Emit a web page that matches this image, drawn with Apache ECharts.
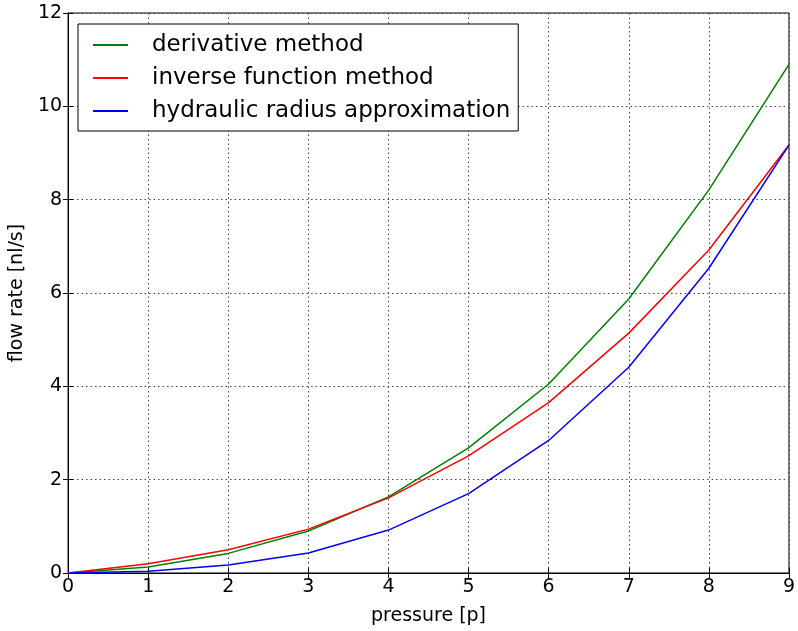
<!DOCTYPE html>
<html><head><meta charset="utf-8">
<script src="https://cdn.jsdelivr.net/npm/echarts@6/dist/echarts.min.js"></script>
<style>html,body{margin:0;padding:0;background:#fff}#c{width:798px;height:631px}</style>
</head><body><div id="c"></div>
<script>
const pressure = [0, 1, 2, 3, 4, 5, 6, 7, 8, 9];
const derivative = [0, 0.13, 0.42, 0.90, 1.63, 2.68, 4.05, 5.87, 8.21, 10.9];
const inverseFn = [0, 0.20, 0.50, 0.94, 1.61, 2.51, 3.65, 5.14, 6.92, 9.17];
const hydraulic = [0, 0.04, 0.17, 0.43, 0.92, 1.70, 2.84, 4.41, 6.53, 9.17];
const seriesNames = ['derivative method', 'inverse function method', 'hydraulic radius approximation'];
const colors = ['#008000', '#ff0000', '#0000ff'];
const font = 'DejaVu Sans';
function pairs(arr){ return pressure.map((p,i)=>[p, arr[i]]); }
const grid = {left: 67, right: 6, top: 13, bottom: 52, show: true, borderColor: '#000', borderWidth: 1, backgroundColor: 'transparent'};
const gridLine = {show: true, lineStyle: {color: '#444', type: [1.5, 3], width: 1}};
const chart = echarts.init(document.getElementById('c'), null, {renderer: 'canvas'});
chart.setOption({
  animation: false,
  color: colors,
  grid: grid,
  legend: {
    left: 78, top: 24, orient: 'vertical',
    padding: [9, 8, 8, 15],
    itemGap: 9, itemWidth: 35, itemHeight: 2, icon: 'rect',
    borderColor: '#000', borderWidth: 1, backgroundColor: '#fff',
    textStyle: {fontFamily: font, fontSize: 23, color: '#000', lineHeight: 24, padding: [0, 0, 0, 19]},
    data: seriesNames
  },
  xAxis: [{
    type: 'value', min: 0, max: 9, interval: 1, position: 'bottom',
    name: 'pressure [p]', nameLocation: 'middle', nameGap: 34,
    nameTextStyle: {fontFamily: font, fontSize: 19, color: '#000'},
    axisLine: {show: true, lineStyle: {color: '#000', width: 1}},
    axisTick: {show: true, inside: true, length: 5, lineStyle: {color: '#000'}},
    axisLabel: {fontFamily: font, fontSize: 19, color: '#000', margin: 5},
    splitLine: gridLine
  }, {
    type: 'value', min: 0, max: 9, interval: 1, position: 'top',
    axisLine: {show: true, lineStyle: {color: '#000'}},
    axisTick: {show: true, inside: true, length: 5, lineStyle: {color: '#000'}},
    axisLabel: {show: false}, splitLine: {show: false}
  }],
  yAxis: [{
    type: 'value', min: 0, max: 12, interval: 2, position: 'left',
    name: 'flow rate [nl/s]', nameLocation: 'middle', nameGap: 32, nameRotate: 90,
    nameTextStyle: {fontFamily: font, fontSize: 19, color: '#000'},
    axisLine: {show: true, lineStyle: {color: '#000', width: 1}},
    axisTick: {show: true, inside: true, length: 5, lineStyle: {color: '#000'}},
    axisLabel: {fontFamily: font, fontSize: 19, color: '#000', margin: 6},
    splitLine: gridLine
  }, {
    type: 'value', min: 0, max: 12, interval: 2, position: 'right',
    axisLine: {show: true, lineStyle: {color: '#000'}},
    axisTick: {show: true, inside: true, length: 5, lineStyle: {color: '#000'}},
    axisLabel: {show: false}, splitLine: {show: false}
  }],
  series: [
    {name: seriesNames[0], type: 'line', data: pairs(derivative), showSymbol: false, lineStyle: {width: 1.5, color: colors[0]}, itemStyle: {color: colors[0]}},
    {name: seriesNames[1], type: 'line', data: pairs(inverseFn), showSymbol: false, lineStyle: {width: 1.5, color: colors[1]}, itemStyle: {color: colors[1]}},
    {name: seriesNames[2], type: 'line', data: pairs(hydraulic), showSymbol: false, lineStyle: {width: 1.5, color: colors[2]}, itemStyle: {color: colors[2]}}
  ]
});
</script></body></html>
